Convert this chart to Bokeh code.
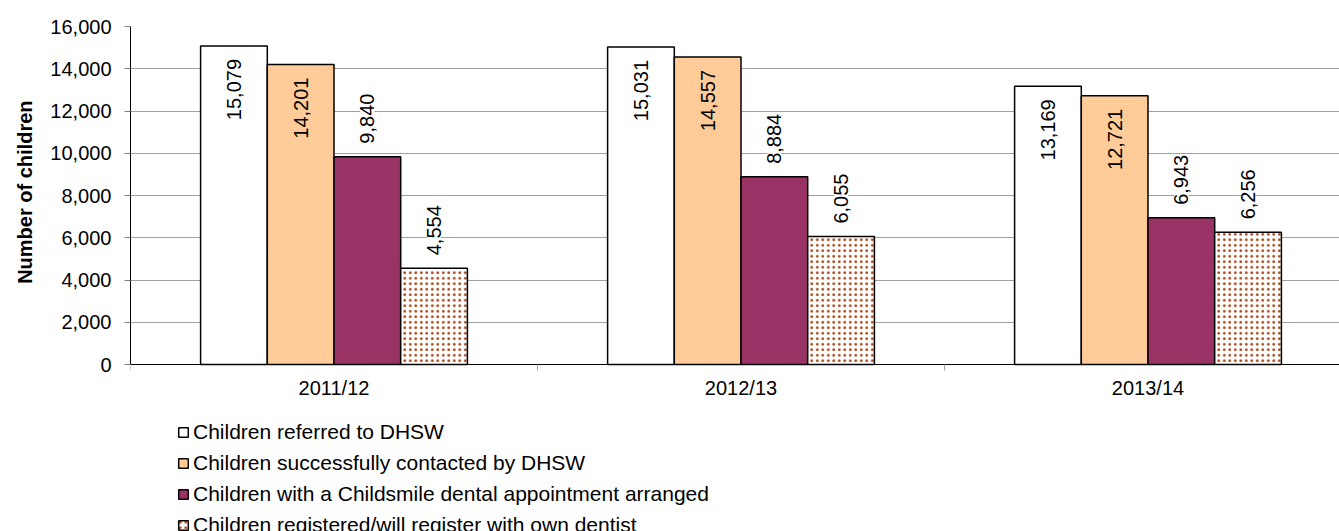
import math
from bokeh.plotting import figure
from bokeh.models import (ColumnDataSource, Range1d, FixedTicker, LabelSet,
                          Legend, LegendItem, NumeralTickFormatter, Title)
from bokeh.core.properties import value
from bokeh.embed import file_html
from bokeh.resources import INLINE

years = ["2011/12", "2012/13", "2013/14"]
series_names = ["Children referred to DHSW",
                "Children successfully contacted by DHSW",
                "Children with a Childsmile dental appointment arranged",
                "Children registered/will register with own dentist"]
referred = [15079, 15031, 13169]
contacted = [14201, 14557, 12721]
appointment = [9840, 8884, 6943]
registered = [4554, 6055, 6256]
series_values = [referred, contacted, appointment, registered]
label_inside = [True, True, False, False]
y_ticks = [0, 2000, 4000, 6000, 8000, 10000, 12000, 14000, 16000]
y_title = "Number of children"

FONT = "Liberation Sans"

# frame covers chart + legend area; value axis spans 338px for 0..16000
units_per_px = 16000 / 338
y_bottom = -(531 - 364) * units_per_px

p = figure(width=1339, height=531, output_backend="svg", toolbar_location=None,
           x_range=Range1d(0, 1209 / 407), y_range=Range1d(y_bottom, 16000),
           min_border_left=130, min_border_right=0, min_border_top=26,
           min_border_bottom=0)
p.outline_line_color = None
p.background_fill_color = "white"
p.border_fill_color = "white"

bar_w = 66.7 / 407
offsets = [-1.5, -0.5, 0.5, 1.5]
styles = [
    dict(fill_color="white"),
    dict(fill_color="#FFCC99"),
    dict(fill_color="#993366"),
    dict(fill_color="white", hatch_pattern="dot", hatch_color="#A8400E",
         hatch_scale=5.5, hatch_weight=5),
]

renderers = []
for i, vals in enumerate(series_values):
    xs = [k + 0.5 + offsets[i] * bar_w for k in range(len(years))]
    src = ColumnDataSource(dict(x=xs, top=vals,
                                text=[f"{v:,}" for v in vals]))
    r = p.vbar(x="x", top="top", bottom=0, width=bar_w, source=src,
               line_color="black", line_width=1.5, **styles[i])
    renderers.append(r)
    if label_inside[i]:
        ls = LabelSet(x="x", y="top", text="text", source=src,
                      angle=math.pi / 2, text_align="right",
                      text_baseline="middle", y_offset=-13,
                      text_font=value(FONT), text_font_size=value("20px"),
                      text_color="black")
    else:
        ls = LabelSet(x="x", y="top", text="text", source=src,
                      angle=math.pi / 2, text_align="left",
                      text_baseline="middle", y_offset=13,
                      text_font=value(FONT), text_font_size=value("20px"),
                      text_color="black", background_fill_color="white")
    p.add_layout(ls)

# y axis
p.yaxis.bounds = (0, 16000)
p.yaxis.ticker = FixedTicker(ticks=y_ticks)
p.yaxis.formatter = NumeralTickFormatter(format="0,0")
p.yaxis.major_label_text_font = FONT
p.yaxis.major_label_text_font_size = "20px"
p.yaxis.major_label_text_color = "black"
p.yaxis.major_label_standoff = 13
p.yaxis.major_tick_out = 6
p.yaxis.major_tick_in = 0
p.yaxis.minor_tick_out = 0
p.yaxis.axis_line_color = "black"
p.yaxis.major_tick_line_color = "#808080"

# axis title as a side title so it can be centred on the value axis only
p.add_layout(Title(text=y_title, align="right", offset=74, standoff=20,
                   vertical_align="top",
                   text_font=FONT, text_font_size="20px",
                   text_font_style="bold", text_color="black"), "left")

# x axis drawn at value 0 inside the frame
p.xaxis.fixed_location = 0
p.xaxis.ticker = FixedTicker(ticks=[0.5, 1.5, 2.5], minor_ticks=[0, 1, 2, 3])
p.xaxis.major_label_overrides = {0.5: years[0], 1.5: years[1], 2.5: years[2]}
p.xaxis.major_label_text_font = FONT
p.xaxis.major_label_text_font_size = "20px"
p.xaxis.major_label_text_color = "black"
p.xaxis.major_label_standoff = 6
p.xaxis.major_tick_out = 0
p.xaxis.major_tick_in = 0
p.xaxis.minor_tick_out = 6
p.xaxis.minor_tick_in = 0
p.xaxis.minor_tick_line_color = "#A0A0A0"
p.xaxis.axis_line_color = "black"

p.xgrid.grid_line_color = None
p.ygrid.grid_line_color = "#A0A0A0"
p.ygrid.grid_line_width = 1

legend = Legend(items=[LegendItem(label=series_names[i], renderers=[renderers[i]])
                       for i in range(4)],
                location=(47, -6), orientation="vertical",
                glyph_width=12, glyph_height=12, label_height=21,
                spacing=7, label_standoff=4, padding=0, margin=0,
                border_line_color=None, background_fill_alpha=0,
                label_text_font=FONT, label_text_font_size="21px",
                label_text_color="black")
p.add_layout(legend)

open("out.html", "w").write(file_html(p, INLINE))
